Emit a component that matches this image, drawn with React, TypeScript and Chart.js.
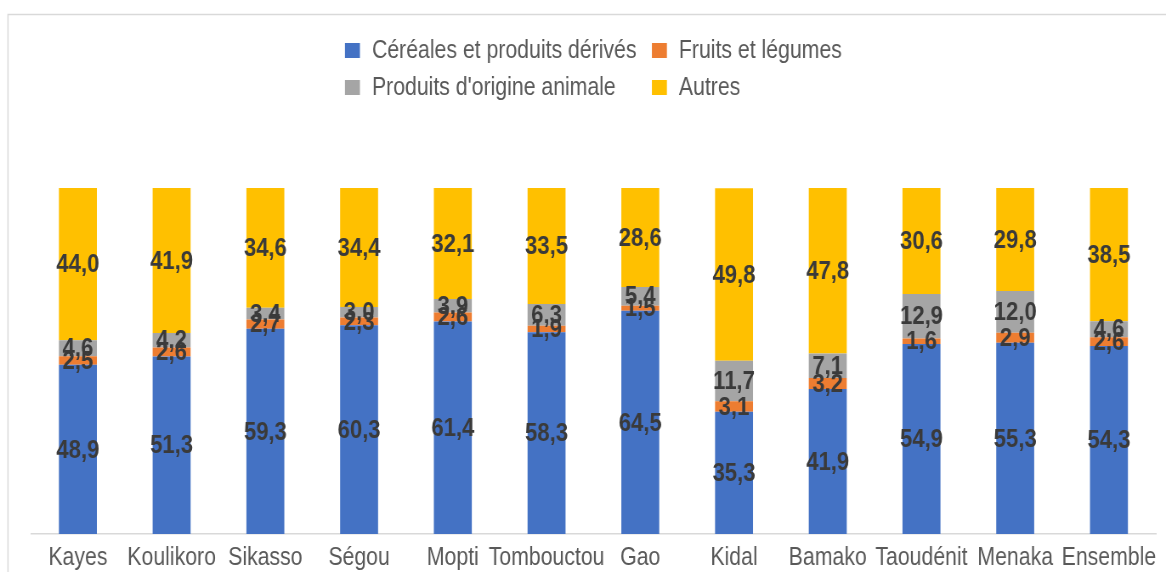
import { useEffect, useRef } from 'react';
import { Chart, registerables } from 'chart.js';

Chart.register(...registerables);

const categories = ['Kayes', 'Koulikoro', 'Sikasso', 'Ségou', 'Mopti', 'Tombouctou', 'Gao', 'Kidal', 'Bamako', 'Taoudénit', 'Menaka', 'Ensemble'];
const cereales = [48.9, 51.3, 59.3, 60.3, 61.4, 58.3, 64.5, 35.3, 41.9, 54.9, 55.3, 54.3];
const fruits = [2.5, 2.6, 2.7, 2.3, 2.6, 1.9, 1.5, 3.1, 3.2, 1.6, 2.9, 2.6];
const animale = [4.6, 4.2, 3.4, 3.0, 3.9, 6.3, 5.4, 11.7, 7.1, 12.9, 12.0, 4.6];
const autres = [44.0, 41.9, 34.6, 34.4, 32.1, 33.5, 28.6, 49.8, 47.8, 30.6, 29.8, 38.5];

const seriesNames = ['Céréales et produits dérivés', 'Fruits et légumes', "Produits d'origine animale", 'Autres'];
const seriesColors = ['#4472C4', '#ED7D31', '#A5A5A5', '#FFC000'];

const SX = 0.85;
const W = 1166;
const H = 572;
const CH = 574;
const IW = Math.round(W / SX);
const FONT = '"Liberation Sans", Arial, sans-serif';

const framePlugin = {
  id: 'frame',
  beforeDraw(chart: any) {
    const ctx = chart.ctx;
    ctx.save();
    ctx.strokeStyle = '#d9d9d9';
    ctx.lineWidth = 1.5;
    ctx.strokeRect(8 / SX, 14.5, IW, CH);
    ctx.restore();
  },
};

const legendPlugin = {
  id: 'gridLegend',
  afterDraw(chart: any) {
    const ctx = chart.ctx;
    const ds = chart.data.datasets;
    const cols = [345 / SX, 652 / SX];
    const rows = [50.5, 87.5];
    ctx.save();
    ctx.font = `25px ${FONT}`;
    ctx.textBaseline = 'middle';
    ctx.textAlign = 'left';
    ds.forEach((d: any, i: number) => {
      const cx = cols[i % 2];
      const cy = rows[Math.floor(i / 2)];
      ctx.fillStyle = d.backgroundColor;
      ctx.fillRect(cx, cy - 7.5, 15 / SX, 15);
      ctx.fillStyle = '#595959';
      ctx.fillText(d.label, cx + 27 / SX, cy + 1);
    });
    ctx.restore();
  },
};

const labelPlugin = {
  id: 'barLabels',
  afterDatasetsDraw(chart: any) {
    const ctx = chart.ctx;
    ctx.save();
    ctx.font = `bold 26px ${FONT}`;
    ctx.fillStyle = '#3a3a3a';
    ctx.textAlign = 'center';
    ctx.textBaseline = 'middle';
    chart.data.datasets.forEach((d: any, di: number) => {
      const meta = chart.getDatasetMeta(di);
      meta.data.forEach((el: any, i: number) => {
        const { x, y, base } = el.getProps(['x', 'y', 'base'], true);
        const txt = Number(d.data[i]).toFixed(1).replace('.', ',');
        ctx.fillText(txt, x, (y + base) / 2 + 1);
      });
    });
    ctx.restore();
  },
};

export default function App() {
  const ref = useRef<HTMLCanvasElement | null>(null);
  useEffect(() => {
    if (!ref.current) return;
    const values = [cereales, fruits, animale, autres];
    const chart = new Chart(ref.current, {
      type: 'bar',
      data: {
        labels: categories,
        datasets: values.map((v, i) => ({
          label: seriesNames[i],
          data: v,
          backgroundColor: seriesColors[i],
          borderWidth: 0,
          categoryPercentage: 1,
          barPercentage: 0.405,
        })),
      },
      options: {
        responsive: false,
        animation: false,
        devicePixelRatio: 1,
        layout: { padding: { top: 188, left: 36.5, right: IW - 1360, bottom: 0 } },
        plugins: {
          legend: { display: false },
          tooltip: { enabled: false },
        },
        scales: {
          x: {
            stacked: true,
            grid: { display: false },
            border: { display: true, color: '#d9d9d9', width: 1.5 },
            ticks: {
              color: '#595959',
              font: { family: FONT, size: 25 },
              padding: 1,
              maxRotation: 0,
              minRotation: 0,
              autoSkip: false,
            },
          },
          y: {
            stacked: true,
            display: false,
            min: 0,
            max: 100,
          },
        },
      },
      plugins: [framePlugin, labelPlugin, legendPlugin],
    });
    return () => chart.destroy();
  }, []);
  return (
    <div style={{ position: 'fixed', left: 0, top: 0, width: W, height: H, overflow: 'hidden', background: '#fff' }}>
      <canvas ref={ref} width={IW} height={CH} style={{ width: W + 'px', height: CH + 'px', display: 'block' }} />
    </div>
  );
}
